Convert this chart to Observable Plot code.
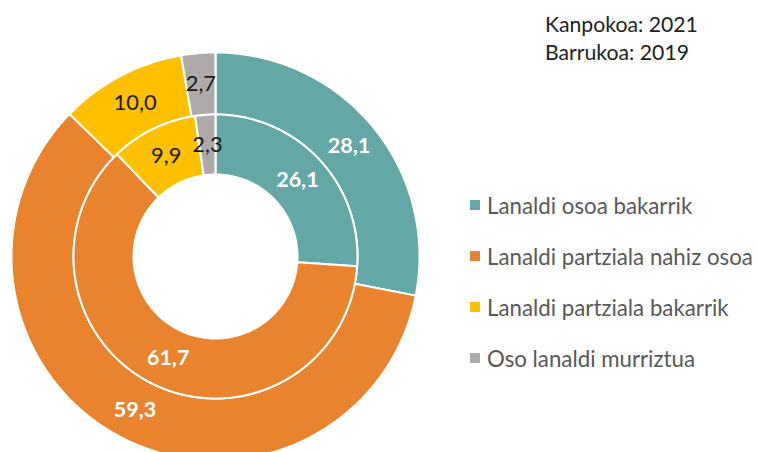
<!DOCTYPE html>
<html>
<head>
<meta charset="utf-8">
<script src="https://cdn.jsdelivr.net/npm/d3@7"></script>
<script src="https://cdn.jsdelivr.net/npm/@observablehq/plot@0.6"></script>
<style>
  html, body { margin: 0; padding: 0; background: #fff; }
  #wrap { position: relative; width: 757px; height: 452px; overflow: hidden; font-family: Lato, "Open Sans", sans-serif; }
  #chart { position: absolute; left: 0; top: 0; }
  #title { position: absolute; left: 545px; top: 10px; line-height: 28px; color: #222; white-space: nowrap; }
  #legend { position: absolute; left: 470px; top: 179.5px; }
  .item { display: flex; align-items: center; height: 51px; color: #595959; white-space: nowrap; }
  .sw { width: 10px; height: 10px; margin-right: 7px; flex: none; }
</style>
</head>
<body>
<div id="wrap">
  <div id="chart"></div>
  <div id="title"></div>
  <div id="legend"></div>
</div>
<script>
// ---- data ----
const categories = [
  "Lanaldi osoa bakarrik",
  "Lanaldi partziala nahiz osoa",
  "Lanaldi partziala bakarrik",
  "Oso lanaldi murriztua"
];
const values2021 = [28.1, 59.3, 10.0, 2.7];   // outer ring (Kanpokoa)
const values2019 = [26.1, 61.7, 9.9, 2.3];    // inner ring (Barrukoa)
const colors = ["#63A8A6", "#EA832E", "#FFC000", "#AEAAAA"];
const labelColors = ["#ffffff", "#ffffff", "#1a1a1a", "#1a1a1a"];
const titleLines = ["Kanpokoa: 2021", "Barrukoa: 2019"];

// font size fitted so a sample string has the reference's width
const ctx = document.createElement("canvas").getContext("2d");
function fit(text, weight, target) {
  ctx.font = `${weight} 100px Lato`;
  return 100 * target / ctx.measureText(text).width;
}
const labelSize = fit("28,1", "bold", 42.5);
const labelSizeReg = fit("10,0", "normal", 43);
const legendSize = fit("Lanaldi partziala nahiz osoa", "normal", 266);
const titleSize = fit("Kanpokoa: 2021", "normal", 153);

// ---- geometry ----
const W = 757, H = 452, CX = 215, CY = 256;
const rings = [
  {year: "2021", values: values2021, r0: 142, r1: 204},
  {year: "2019", values: values2019, r0: 82, r1: 142}
];

const pts = [];
const labels = [];
for (const ring of rings) {
  const total = d3.sum(ring.values);
  let acc = 0;
  ring.values.forEach((v, i) => {
    const a0 = acc / total * 2 * Math.PI;
    acc += v;
    const a1 = acc / total * 2 * Math.PI;
    const key = ring.year + "-" + i;
    const n = Math.max(2, Math.ceil((a1 - a0) / (2 * Math.PI) * 360));
    for (let k = 0; k <= n; k++) {
      const a = a0 + (a1 - a0) * k / n;
      pts.push({key, cat: categories[i], x: ring.r1 * Math.sin(a), y: ring.r1 * Math.cos(a)});
    }
    for (let k = n; k >= 0; k--) {
      const a = a0 + (a1 - a0) * k / n;
      pts.push({key, cat: categories[i], x: ring.r0 * Math.sin(a), y: ring.r0 * Math.cos(a)});
    }
    const am = (a0 + a1) / 2, rm = (ring.r0 + ring.r1) / 2;
    labels.push({
      x: rm * Math.sin(am), y: rm * Math.cos(am),
      text: v.toFixed(1).replace(".", ","),
      color: labelColors[i],
      bold: i < 2
    });
  });
}

const plot = Plot.plot({
  width: W, height: H,
  margin: 0,
  x: {domain: [-CX, W - CX], range: [0, W], axis: null},
  y: {domain: [-(H - CY), CY], range: [H, 0], axis: null},
  color: {domain: categories, range: colors},
  style: {background: "transparent", overflow: "visible"},
  marks: [
    Plot.line(pts, {x: "x", y: "y", z: "key", fill: "cat", stroke: "white", strokeWidth: 2, curve: "linear-closed"}),
    Plot.text(labels.filter(d => d.bold), {x: "x", y: "y", text: "text", fill: "color", fontSize: labelSize, fontWeight: "bold", fontFamily: "Lato"}),
    Plot.text(labels.filter(d => !d.bold), {x: "x", y: "y", text: "text", fill: "color", fontSize: labelSizeReg, fontFamily: "Lato"})
  ]
});
document.getElementById("chart").appendChild(plot);

const title = document.getElementById("title");
title.style.fontSize = titleSize + "px";
title.innerHTML = titleLines.map(t => `<div>${t}</div>`).join("");
const legend = document.getElementById("legend");
legend.style.fontSize = legendSize + "px";
categories.forEach((c, i) => {
  const it = document.createElement("div");
  it.className = "item";
  it.innerHTML = `<span class="sw" style="background:${colors[i]}"></span><span>${c}</span>`;
  legend.appendChild(it);
});
</script>
</body>
</html>
